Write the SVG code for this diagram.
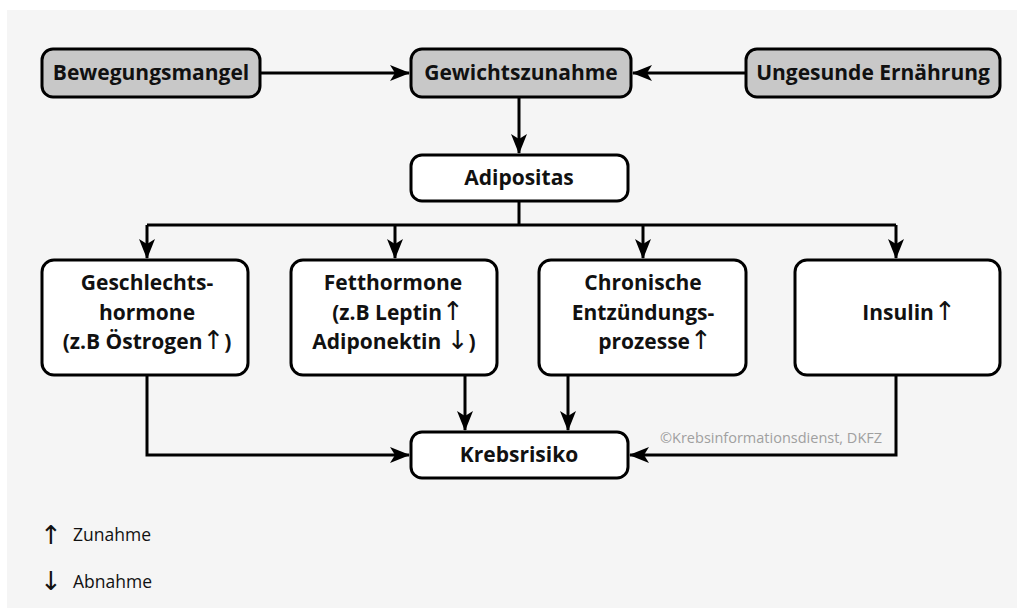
<svg xmlns="http://www.w3.org/2000/svg" width="1023" height="610" viewBox="0 0 1023 610">
<style>
.bg{fill:#f5f5f5}
.box{fill:#fff;stroke:#000;stroke-width:3}
.grey{fill:#c8c8c8}
.t{font-family:"Open Sans","Noto Sans","DejaVu Sans",sans-serif;font-weight:700;font-size:21px;fill:#111;text-anchor:middle}
.ar{font-family:"DejaVu Sans",sans-serif;font-weight:400;font-size:26px;fill:#111}
.c{stroke:#000;stroke-width:3;fill:none}
.leg{font-family:"Open Sans","Noto Sans","DejaVu Sans",sans-serif;font-size:17.5px;fill:#111}
.copy{font-family:"Open Sans","Noto Sans",sans-serif;font-size:14.5px;fill:#a0a0a0}
</style>
<defs>
<marker id="ah" viewBox="0 0 20 16" refX="19" refY="8" markerWidth="20" markerHeight="16" markerUnits="userSpaceOnUse" orient="auto">
<path d="M0,0 L20,8 L0,16 L5,8 z" fill="#000"/>
</marker>
</defs>
<rect class="bg" x="7" y="10" width="1010" height="598"/>
<g id="connectors">
<path class="c" d="M260,73 H409" marker-end="url(#ah)"/>
<path class="c" d="M746,73 H633" marker-end="url(#ah)"/>
<path class="c" d="M519,97 V153" marker-end="url(#ah)"/>
<path class="c" d="M519,201 V225 M147,225 H896"/>
<path class="c" d="M147,225 V258" marker-end="url(#ah)"/>
<path class="c" d="M395,225 V258" marker-end="url(#ah)"/>
<path class="c" d="M643,225 V258" marker-end="url(#ah)"/>
<path class="c" d="M896,225 V258" marker-end="url(#ah)"/>
<path class="c" d="M147,375 V455 H409" marker-end="url(#ah)"/>
<path class="c" d="M465,375 V430" marker-end="url(#ah)"/>
<path class="c" d="M568,375 V430" marker-end="url(#ah)"/>
<path class="c" d="M896,375 V455 H630" marker-end="url(#ah)"/>
</g>
<g id="bewegungsmangel">
<rect class="box grey" x="42" y="49" width="218" height="48" rx="11"/>
<text class="t" x="151" y="80">Bewegungsmangel</text>
</g>
<g id="gewichtszunahme">
<rect class="box grey" x="411" y="49" width="220" height="48" rx="11"/>
<text class="t" x="521" y="80">Gewichtszunahme</text>
</g>
<g id="ungesunde">
<rect class="box grey" x="746" y="49" width="254" height="48" rx="11"/>
<text class="t" x="873" y="80">Ungesunde Ernährung</text>
</g>
<g id="adipositas">
<rect class="box" x="411" y="155" width="217" height="46" rx="11"/>
<text class="t" x="519" y="185">Adipositas</text>
</g>
<g id="geschlechtshormone">
<rect class="box" x="42" y="260" width="206" height="115" rx="12"/>
<text class="t" x="147" y="290">Geschlechts-</text>
<text class="t" x="147" y="320">hormone</text>
<text class="t" x="147" y="349">(z.B Östrogen<tspan class="ar">↑</tspan>)</text>
</g>
<g id="fetthormone">
<rect class="box" x="291" y="260" width="206" height="115" rx="12"/>
<text class="t" x="393" y="290">Fetthormone</text>
<text class="t" x="398" y="320">(z.B Leptin<tspan class="ar">↑</tspan></text>
<text class="t" x="394" y="349">Adiponektin <tspan class="ar">↓</tspan>)</text>
</g>
<g id="entzuendung">
<rect class="box" x="539" y="260" width="207" height="115" rx="12"/>
<text class="t" x="643" y="290">Chronische</text>
<text class="t" x="643" y="320">Entzündungs-</text>
<text class="t" x="655" y="349">prozesse<tspan class="ar">↑</tspan></text>
</g>
<g id="insulin">
<rect class="box" x="795" y="260" width="205" height="115" rx="12"/>
<text class="t" x="909" y="320">Insulin<tspan class="ar">↑</tspan></text>
</g>
<g id="krebsrisiko">
<rect class="box" x="411" y="432" width="217" height="46" rx="11"/>
<text class="t" x="519" y="462">Krebsrisiko</text>
</g>
<text class="copy" x="660" y="443">©Krebsinformationsdienst, DKFZ</text>
<g id="legend">
<text class="ar" x="40" y="544">↑</text>
<text class="leg" x="73" y="541">Zunahme</text>
<text class="ar" x="40" y="590">↓</text>
<text class="leg" x="73" y="588">Abnahme</text>
</g>
</svg>
